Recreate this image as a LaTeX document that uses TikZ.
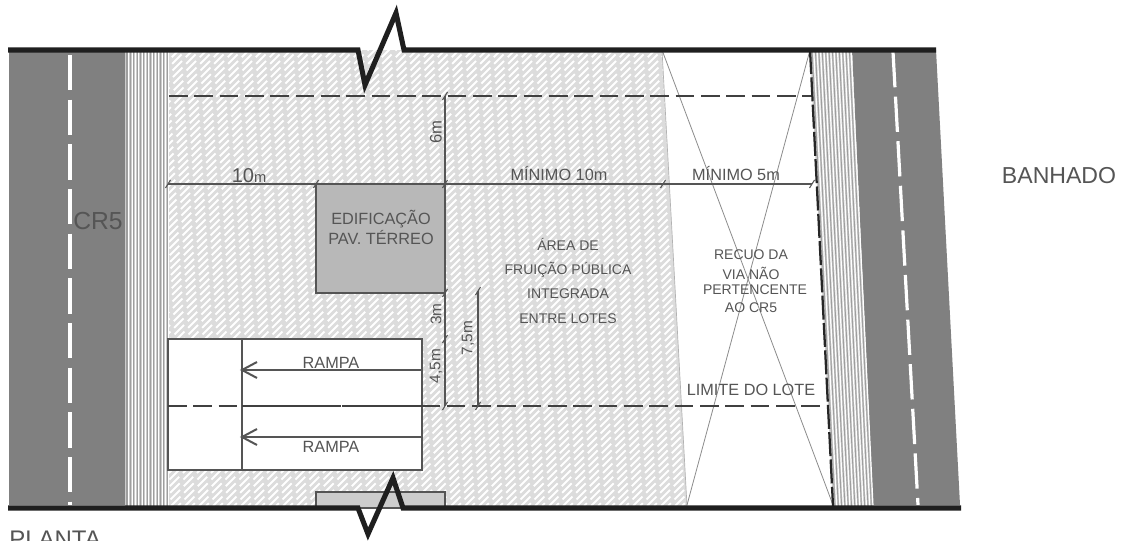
\documentclass[tikz,border=0pt]{standalone}
\usepackage{fontspec}
\setmainfont{Liberation Sans}
\definecolor{roadgray}{HTML}{808080}
\definecolor{inkgray}{HTML}{555555}
\definecolor{hatchgray}{HTML}{DCDCDC}
\definecolor{bandgray}{HTML}{CCCCCC}
\tikzset{
  roadfill/.style={fill=roadgray,draw=none},
  centreline/.style={white,line width=2.4pt,dash pattern=on 26.5pt off 7pt},
  heavy/.style={black!88,line width=3.8pt,line join=miter,miter limit=10},
  dashline/.style={black!75,line width=1.5pt,dash pattern=on 14pt off 5pt},
  dimline/.style={inkgray,line width=0.95pt},
  tick/.style={inkgray,line width=0.8pt},
  partline/.style={inkgray,line width=1.5pt},
  crossline/.style={black!45,line width=0.6pt},
  label/.style={text=inkgray,inner sep=0pt,align=center,font=\fontsize{10.5pt}{13pt}\selectfont},
  biglabel/.style={text=inkgray,inner sep=0pt,font=\fontsize{17.3pt}{19pt}\selectfont},
  dimlabel/.style={text=inkgray,inner sep=0pt,font=\fontsize{11.5pt}{13pt}\selectfont},
  midlabel/.style={text=inkgray,inner sep=0pt,font=\fontsize{12.2pt}{14pt}\selectfont},
  smalllabel/.style={text=inkgray,inner sep=0pt,font=\fontsize{10.5pt}{13pt}\selectfont}
}
\begin{document}
\begin{tikzpicture}[x=0.75pt,y=-0.75pt]
\useasboundingbox (0,0) rectangle (1126,541);
\fill[white] (0,0) rectangle (1126,541);
% hatched ground
\begin{scope}
\clip (169,50) -- (662,50) -- (687,506) -- (169,506) -- cycle;
\fill[hatchgray] (169,50) rectangle (690,506);
\foreach \k in {0,...,150}{
  \pgfmathsetmacro{\ph}{mod(\k,2)*7}
  \draw[white,line width=1.5pt,dash pattern=on 10pt off 4pt,dash phase=\ph pt]
    (169+\k*7-460,506) -- (169+\k*7,46);
}
\end{scope}
\draw[black!30,line width=.5pt] (662,50) -- (687,506);
% left road
\fill[roadfill] (9,50) rectangle (125,505);
\draw[centreline] (70,55) -- (70,505);
% left stripes
\fill[bandgray] (125,50) rectangle (169,506);
\foreach \k in {0,...,12}{
  \draw[black!38,line width=.8pt] (127+\k*3.35,50) -- (127+\k*3.35,506);
  \draw[white,line width=.7pt] (128.7+\k*3.35,50) -- (128.7+\k*3.35,506);
}
% right road
\fill[roadfill] (852,50) -- (936,50) -- (960,505) -- (873,505) -- cycle;
\draw[centreline] (893,52) -- (918,505);
% right stripes
\fill[bandgray] (810,50) -- (852,50) -- (873,506) -- (833,506) -- cycle;
\foreach \k in {0,...,11}{
  \draw[black!38,line width=.7pt] (812+\k*3.4,50) -- (835+\k*3.3,506);
  \draw[white,line width=.9pt] (813.7+\k*3.4,50) -- (836.7+\k*3.3,506);
}
% crossing lines of the setback
\draw[crossline] (662,50) -- (833,505);
\draw[crossline] (810,50) -- (687,505);
% buildings
\draw[partline,fill=black!28] (316,184) rectangle (445,293);
\draw[partline,fill=black!20] (316,492) rectangle (445,508);
% ramps
\draw[partline,fill=white] (168,339) rectangle (422,470);
\draw[partline] (242,339) -- (242,470);
\coordinate (rampR1) at (422,370); \coordinate (rampL1) at (242,370);
\coordinate (rampR2) at (422,437); \coordinate (rampL2) at (242,437);
\foreach \a/\b in {rampR1/rampL1,rampR2/rampL2}{
  \draw[partline] (\a) -- (\b);
  \draw[partline] ([xshift=15*.75pt,yshift=8*.75pt]\b) -- (\b) -- ([xshift=15*.75pt,yshift=-8*.75pt]\b);
}
% dashed limits
\draw[dashline] (169,96) -- (811,96);
\draw[dashline,line width=1.8pt] (168,406) -- (828,406);
\draw[black!75,line width=1.8pt,dash pattern=on 14pt off 1pt] (242,406) -- (422,406);
\draw[black!85,line width=1.7pt,dash pattern=on 18pt off 2.5pt] (810,50) -- (833,506);
% dimensions
\draw[dimline] (168,184) -- (812,184);
\draw[dimline] (445,96) -- (445,406);
\draw[dimline] (478,291) -- (478,406);
\foreach \x/\y in {168/184,316/184,445/184,663/184,812/184,445/96,445/293,445/339,445/406,478/291,478/406}{
  \draw[tick] (\x-2.5,\y+4) -- (\x+2.5,\y-4);
}
% heavy outlines
\draw[heavy] (8,50) -- (358,50) -- (365,85) -- (396,13) -- (404,50) -- (936,50);
\draw[heavy] (8,508) -- (358,508) -- (368,534) -- (393,478) -- (403,508) -- (961,508);
% labels
\node[biglabel,font=\fontsize{18.5pt}{20pt}\selectfont] (cr) at (98,221) {CR5};
\node[biglabel,anchor=west,font=\fontsize{18pt}{20pt}\selectfont] (planta) at (9,539) {PLANTA};
\node[biglabel] (banhado) at (1059,176) {BANHADO};
\node[midlabel,align=center] (edif) at (381,227.5) {EDIFICAÇÃO\\[1.5pt]PAV. TÉRREO};
\node[label] (a1) at (568,244) {ÁREA DE};
\node[label] (a2) at (568,270) {FRUIÇÃO PÚBLICA};
\node[label] (a3) at (568,294) {INTEGRADA};
\node[label] (a4) at (568,319) {ENTRE LOTES};
\node[smalllabel] (r1) at (751,255) {RECUO DA};
\node[smalllabel] (r2) at (751,273) {VIA NÃO};
\node[smalllabel] (r3) at (755,290) {PERTENCENTE};
\node[smalllabel] (r4) at (751,308) {AO CR5};
\node[midlabel] (lim) at (751,390) {LIMITE DO LOTE};
\node[midlabel] (m10) at (559,174) {MÍNIMO 10m};
\node[midlabel] (m5) at (736,174) {MÍNIMO 5m};
\node[midlabel] (ra1) at (331,363) {RAMPA};
\node[midlabel] (ra2) at (331,447) {RAMPA};
\node[biglabel,font=\fontsize{15pt}{15pt}\selectfont] (d10) at (249,176) {10{\fontsize{11pt}{11pt}\selectfont m}};
\node[dimlabel,rotate=90,font=\fontsize{12.5pt}{13pt}\selectfont] (d6) at (436,132) {6m};
\node[dimlabel,rotate=90] (d3) at (436,314) {3m};
\node[dimlabel,rotate=90] (d45) at (436,366) {4,5m};
\node[dimlabel,rotate=90] (d75) at (468,338) {7,5m};
\end{tikzpicture}
\end{document}
